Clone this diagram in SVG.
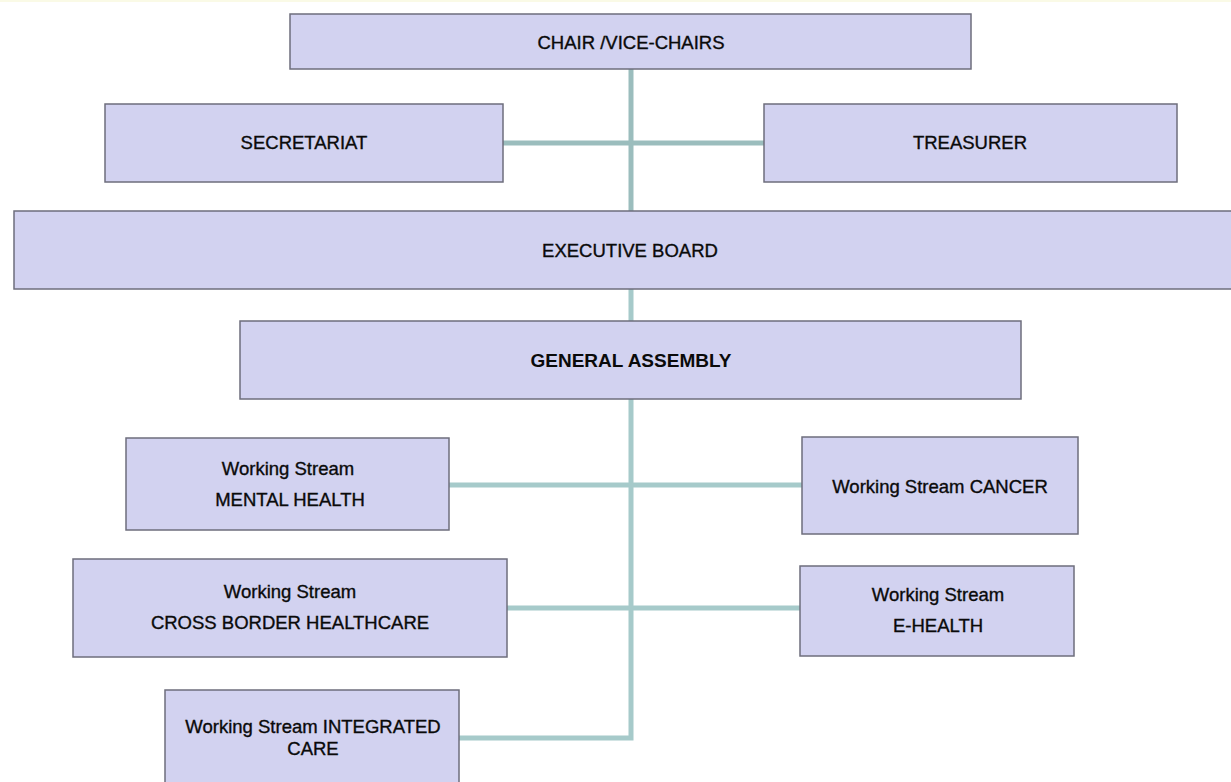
<svg xmlns="http://www.w3.org/2000/svg" width="1231" height="782" viewBox="0 0 1231 782">
<style>
.box{fill:#D2D2F0;stroke:#6E6E7C;stroke-width:1.5}
.t{font-family:"Liberation Sans",Arial,sans-serif;font-size:18.5px;fill:#0a0a0a;stroke:#0a0a0a;stroke-width:0.35;text-anchor:middle}
.b{font-weight:bold;font-size:19px;stroke-width:0}
.c{fill:none;stroke:#A6CACA;stroke-width:5}
.c2{fill:none;stroke:#9BBDBD;stroke-width:5}
</style>
<rect x="0" y="0" width="1231" height="782" fill="#fff"/>
<rect x="0" y="0" width="1231" height="2" fill="#FAFAE6"/>
<g id="connectors">
<path class="c2" d="M631 69V211M503 143H764"/>
<path class="c" d="M631 289V321M631 399V738H459M449 485H802M507 608H800"/>
</g>
<g id="chair"><rect class="box" x="290" y="14" width="681" height="55"/><text class="t" x="631" y="49">CHAIR /VICE-CHAIRS</text></g>
<g id="secretariat"><rect class="box" x="105" y="104" width="398" height="78"/><text class="t" x="304" y="149">SECRETARIAT</text></g>
<g id="treasurer"><rect class="box" x="764" y="104" width="413" height="78"/><text class="t" x="970" y="149">TREASURER</text></g>
<g id="executive-board"><rect class="box" x="14" y="211" width="1225" height="78"/><text class="t" x="630" y="257">EXECUTIVE BOARD</text></g>
<g id="general-assembly"><rect class="box" x="240" y="321" width="781" height="78"/><text class="t b" x="631" y="367">GENERAL ASSEMBLY</text></g>
<g id="ws-mental-health"><rect class="box" x="126" y="438" width="323" height="92"/><text class="t" x="288" y="475">Working Stream</text><text class="t" x="290" y="506">MENTAL HEALTH</text></g>
<g id="ws-cancer"><rect class="box" x="802" y="437" width="276" height="97"/><text class="t" x="940" y="493">Working Stream CANCER</text></g>
<g id="ws-cross-border"><rect class="box" x="73" y="559" width="434" height="98"/><text class="t" x="290" y="598">Working Stream</text><text class="t" x="290" y="629">CROSS BORDER HEALTHCARE</text></g>
<g id="ws-e-health"><rect class="box" x="800" y="566" width="274" height="90"/><text class="t" x="938" y="601">Working Stream</text><text class="t" x="938" y="632">E-HEALTH</text></g>
<g id="ws-integrated-care"><rect class="box" x="165" y="690" width="294" height="100"/><text class="t" x="313" y="733">Working Stream INTEGRATED</text><text class="t" x="313" y="755">CARE</text></g>
</svg>
